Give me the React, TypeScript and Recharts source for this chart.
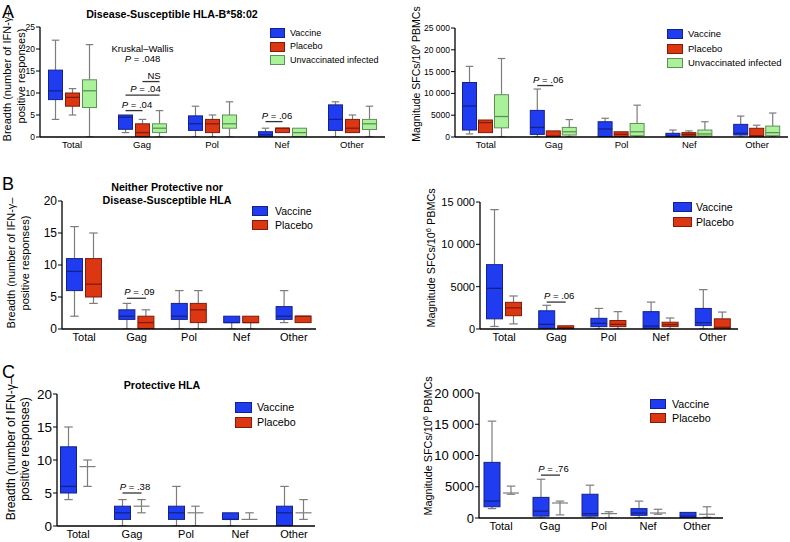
import React from "react";
import { BarChart, Bar, XAxis, YAxis, Legend } from "recharts";

// each box: [min, q1, median, q3, max]
type Box = number[];

const categories = ["Total", "Gag", "Pol", "Nef", "Other"];

const seriesNames: Record<string, string> = {
  vaccine: "Vaccine",
  placebo: "Placebo",
  unvacc: "Unvaccinated infected",
};

// A: disease-susceptible HLA-B*58:02
const susBreadthVaccine: Box[] = [[4, 8.5, 10.5, 15.2, 22], [1, 1.75, 4.5, 5, 5], [0, 1.5, 3, 4.8, 7], [0, 0, 0.5, 1.2, 2], [0, 1.5, 4, 7.3, 8]];
const susBreadthPlacebo: Box[] = [[5, 7, 9, 10, 11], [0, 0, 1, 3, 4], [0, 1, 3, 4, 5], [1, 1, 2, 2, 2], [1, 1, 2, 4, 5]];
const susBreadthUnvacc: Box[] = [[0, 6.7, 10.5, 13, 21], [0, 1, 2, 3, 6], [0, 2, 3, 5, 8], [0, 0, 1, 2, 2], [0, 1.7, 3, 4, 7]];

const susMagVaccine: Box[] = [[700, 1600, 7100, 12500, 16200], [0, 600, 2200, 6100, 11000], [0, 100, 1850, 3500, 4300], [0, 0, 200, 850, 1600], [0, 450, 850, 2900, 4800]];
const susMagPlacebo: Box[] = [[1000, 1000, 3300, 3900, 3900], [0, 0, 200, 1400, 1400], [0, 100, 600, 1200, 1200], [0, 200, 600, 1000, 1400], [0, 0, 300, 2000, 2700]];
const susMagUnvacc: Box[] = [[0, 2100, 4700, 9700, 18000], [0, 450, 1200, 2200, 4000], [0, 300, 1200, 3100, 7300], [0, 200, 700, 1600, 3500], [0, 300, 1000, 2500, 5500]];

// B: neither protective nor disease-susceptible
const neuBreadthVaccine: Box[] = [[2, 6, 9, 11, 16], [0, 1.5, 2, 3, 4], [0, 1.5, 2, 4, 6], [0, 1, 1, 2, 2], [1, 1.5, 2, 3.5, 6]];
const neuBreadthPlacebo: Box[] = [[4, 5, 7, 11, 15], [0, 0, 1, 2, 3], [0, 1, 3, 4, 6], [0, 1, 1, 2, 2], [1, 1, 2, 2, 2]];

const neuMagVaccine: Box[] = [[300, 1200, 4800, 7600, 14100], [0, 80, 550, 2150, 2800], [0, 280, 670, 1260, 2430], [0, 80, 350, 2050, 3180], [0, 400, 750, 2430, 4650]];
const neuMagPlacebo: Box[] = [[600, 1570, 2500, 3150, 3900], [0, 0, 150, 380, 380], [0, 280, 550, 1000, 2050], [0, 280, 520, 800, 1300], [0, 0, 200, 1200, 2000]];

// C: protective HLA
const proBreadthVaccine: Box[] = [[4, 5, 6, 12, 15], [0, 1, 2, 3, 4], [0, 1, 2, 3, 6], [0, 1, 1, 2, 2], [0, 0, 2, 3, 6]];
const proBreadthPlacebo: Box[] = [[6, 9, 9, 9, 10], [2, 3, 3, 3, 4], [0, 2, 2, 2, 3], [1, 1, 1, 1, 2], [1, 2, 2, 2, 4]];

const proMagVaccine: Box[] = [[1500, 1800, 2700, 8900, 15500], [0, 300, 1100, 3300, 6200], [0, 300, 700, 3800, 5250], [0, 430, 800, 1500, 2700], [0, 0, 300, 900, 900]];
const proMagPlacebo: Box[] = [[3800, 4000, 4000, 4000, 5100], [500, 2400, 2400, 2400, 2700], [0, 700, 700, 700, 1000], [600, 800, 800, 800, 1400], [100, 600, 600, 600, 1800]];

const ticksBreadth25 = [0, 5, 10, 15, 20, 25];
const ticksBreadth20 = [0, 5, 10, 15, 20];
const ticksMag25k = [0, 5000, 10000, 15000, 20000, 25000];
const ticksMag15k = [0, 5000, 10000, 15000];
const ticksMag20k = [0, 5000, 10000, 15000, 20000];

type Ann = { cat: string; y: number; text: string; from?: number; to?: number };

const susBreadthNotes: Ann[] = [
  { cat: "Gag", y: 19.25, text: "Kruskal–Wallis" },
  { cat: "Gag", y: 17, text: "P = .048" },
  { cat: "Gag", y: 6, text: "P = .04", from: 0, to: 1 },
  { cat: "Gag", y: 9.5, text: "P = .04", from: 0, to: 2 },
  { cat: "Gag", y: 12.6, text: "NS", from: 1, to: 2 },
  { cat: "Nef", y: 3.5, text: "P = .06", from: 0, to: 1 },
];
const susMagNotes: Ann[] = [{ cat: "Gag", y: 11800, text: "P = .06", from: 0, to: 1 }];
const neuBreadthNotes: Ann[] = [{ cat: "Gag", y: 4.8, text: "P = .09", from: 0, to: 1 }];
const neuMagNotes: Ann[] = [{ cat: "Gag", y: 3180, text: "P = .06", from: 0, to: 1 }];
const proBreadthNotes: Ann[] = [{ cat: "Gag", y: 5, text: "P = .38", from: 0, to: 1 }];
const proMagNotes: Ann[] = [{ cat: "Gag", y: 6860, text: "P = .76", from: 0, to: 1 }];

const COLORS: Record<string, { fill: string; edge: string }> = {
  vaccine: { fill: "#1f3cf0", edge: "#142288" },
  placebo: { fill: "#dc3613", edge: "#7e1d0a" },
  unvacc: { fill: "#a9f29a", edge: "#5f8f57" },
};
const WHISKER = "#7d7d7d";
const FONT = '"Liberation Sans", Arial, Helvetica, sans-serif';

const fmt = (v: number) => (v >= 10000 ? `${v / 1000} 000` : `${v}`);

const PText = ({ text }: { text: string }) =>
  text.startsWith("P ") ? (
    <>
      <tspan fontStyle="italic">P</tspan>
      <tspan>{text.slice(1)}</tspan>
    </>
  ) : (
    <tspan>{text}</tspan>
  );

function BoxShape(props: any) {
  const { x, y, width, height, payload, skey, gap, nSeries, anns, annFont, first } = props;
  const b: Box = payload[skey];
  const [mn, q1, md, q3, mx] = b;
  const top = Math.min(y, y + height);
  const h = Math.abs(height);
  const py = (v: number) => top + (h * (mx - v)) / (mx - mn);
  const c = COLORS[skey];
  const cx = x + width / 2;
  const cap = width * 0.25;
  const noBox = q3 === q1;
  const pitch = width + gap;
  const notes: Ann[] = first ? anns.filter((a: Ann) => a.cat === payload.cat) : [];
  return (
    <g>
      {mx > q3 && (
        <g stroke={WHISKER} strokeWidth={1.2}>
          <line x1={cx} x2={cx} y1={py(q3)} y2={py(mx)} />
          <line x1={cx - cap} x2={cx + cap} y1={py(mx)} y2={py(mx)} />
        </g>
      )}
      {q1 > mn && (
        <g stroke={WHISKER} strokeWidth={1.2}>
          <line x1={cx} x2={cx} y1={py(q1)} y2={py(mn)} />
          <line x1={cx - cap} x2={cx + cap} y1={py(mn)} y2={py(mn)} />
        </g>
      )}
      {!noBox && (
        <rect x={x + 0.5} y={py(q3)} width={width - 1} height={py(q1) - py(q3)} fill={c.fill} stroke={c.edge} strokeWidth={1} />
      )}
      <line
        x1={x + 0.5}
        x2={x + width - 0.5}
        y1={py(md)}
        y2={py(md)}
        stroke={noBox ? WHISKER : c.edge}
        strokeWidth={noBox ? 1.2 : 1.3}
      />
      {notes.map((a, i) => {
        const ya = py(a.y);
        if (a.from === undefined || a.to === undefined) {
          const gx = cx + ((nSeries - 1) / 2) * pitch;
          return (
            <text key={i} x={gx} y={ya} textAnchor="middle" fontSize={annFont} fontFamily={FONT} fill="#000">
              <PText text={a.text} />
            </text>
          );
        }
        const x1 = cx + a.from * pitch;
        const x2 = cx + a.to * pitch;
        return (
          <g key={i}>
            <line x1={x1} x2={x2} y1={ya} y2={ya} stroke="#333" strokeWidth={1.3} />
            <text x={(x1 + x2) / 2 + 3} y={ya - 3} textAnchor="middle" fontSize={annFont} fontFamily={FONT} fill="#000">
              <PText text={a.text} />
            </text>
          </g>
        );
      })}
    </g>
  );
}

type PanelProps = {
  box: { left: number; top: number; width: number; height: number };
  plot: { left: number; top: number; right: number; bottom: number };
  band: [number, number];
  series: { key: string; values: Box[] }[];
  domain: [number, number];
  ticks: number[];
  barSize: number;
  barGap: number;
  yFont: number;
  catFont: number;
  legendFont: number;
  annFont: number;
  legend: { x: number; y: number; pitch: number; sw: number; sh: number; gap: number };
  anns: Ann[];
};

function Panel(p: PanelProps) {
  const data = categories.map((cat, i) => {
    const row: any = { cat };
    p.series.forEach((s) => (row[s.key] = s.values[i]));
    return row;
  });
  const margin = {
    top: p.plot.top - p.box.top,
    right: p.box.left + p.box.width - p.plot.right,
    bottom: 0,
    left: 0,
  };
  const lg = p.legend;
  return (
    <div style={{ position: "absolute", left: p.box.left, top: p.box.top }}>
      <BarChart width={p.box.width} height={p.box.height} data={data} margin={margin} barSize={p.barSize} barGap={p.barGap}>
        <XAxis
          dataKey="cat"
          height={p.box.top + p.box.height - p.plot.bottom}
          padding={{ left: p.band[0] - p.plot.left, right: p.plot.right - p.band[1] }}
          tickLine={false}
          tickSize={0}
          tickMargin={4}
          interval={0}
          axisLine={{ stroke: "#000", strokeWidth: 1.3 }}
          tick={{ fill: "#000", fontSize: p.catFont, fontFamily: FONT }}
        />
        <YAxis
          type="number"
          width={p.plot.left - p.box.left}
          domain={p.domain}
          ticks={p.ticks}
          interval={0}
          allowDataOverflow
          tickSize={4}
          tickMargin={1}
          tickFormatter={fmt}
          axisLine={{ stroke: "#000", strokeWidth: 1.3 }}
          tickLine={{ stroke: "#000" }}
          tick={{ fill: "#000", fontSize: p.yFont, fontFamily: FONT }}
        />
        {p.series.map((s, si) => (
          <Bar
            key={s.key}
            name={seriesNames[s.key]}
            dataKey={(d: any) => [d[s.key][0], d[s.key][4]]}
            isAnimationActive={false}
            shape={(sp: any) => (
              <BoxShape
                {...sp}
                skey={s.key}
                gap={p.barGap}
                nSeries={p.series.length}
                anns={p.anns}
                annFont={p.annFont}
                first={si === 0}
              />
            )}
          />
        ))}
        <Legend
          layout="vertical"
          align="center"
          verticalAlign="middle"
          wrapperStyle={{ left: lg.x - p.box.left, top: lg.y - lg.pitch / 2 - p.box.top, width: "auto" }}
          content={() => (
            <div style={{ fontFamily: FONT }}>
              {p.series.map((s) => (
                <div key={s.key} style={{ display: "flex", alignItems: "center", height: lg.pitch, whiteSpace: "nowrap" }}>
                  <span
                    style={{
                      display: "inline-block",
                      width: lg.sw,
                      height: lg.sh,
                      background: COLORS[s.key].fill,
                      border: `1px solid ${COLORS[s.key].edge}`,
                      boxSizing: "border-box",
                      marginRight: lg.gap,
                    }}
                  />
                  <span style={{ fontSize: p.legendFont, color: "#000", lineHeight: 1 }}>{seriesNames[s.key]}</span>
                </div>
              ))}
            </div>
          )}
        />
      </BarChart>
    </div>
  );
}

const YLabel = ({ x, y, lines, size }: { x: number[]; y: number; lines: React.ReactNode[]; size: number }) => (
  <>
    {lines.map((l, i) => (
      <text key={i} transform={`translate(${x[i]},${y}) rotate(-90)`} textAnchor="middle" fontSize={size} fontFamily={FONT} fill="#000">
        {l}
      </text>
    ))}
  </>
);

const magLabel = (
  <>
    <tspan>Magnitude SFCs/10</tspan>
    <tspan dy={-4} fontSize="0.7em">6</tspan>
    <tspan dy={4}> PBMCs</tspan>
  </>
);
const breadthLines = ["Breadth (number of IFN-γ–", "positive responses)"];

export default function App() {
  return (
    <div style={{ position: "absolute", left: 0, top: 0, width: 790, height: 542, background: "#fff", fontFamily: FONT }}>
      <Panel
        box={{ left: 0, top: 0, width: 395, height: 160 }}
        plot={{ left: 40, top: 27, right: 385, bottom: 137 }}
        band={[37, 387]}
        series={[
          { key: "vaccine", values: susBreadthVaccine },
          { key: "placebo", values: susBreadthPlacebo },
          { key: "unvacc", values: susBreadthUnvacc },
        ]}
        domain={[0, 25]}
        ticks={ticksBreadth25}
        barSize={15}
        barGap={2}
        yFont={8.5}
        catFont={9.5}
        legendFont={9}
        annFont={9.5}
        legend={{ x: 270, y: 33, pitch: 13.5, sw: 15, sh: 10, gap: 5 }}
        anns={susBreadthNotes}
      />
      <Panel
        box={{ left: 400, top: 0, width: 390, height: 160 }}
        plot={{ left: 455, top: 28, right: 788, bottom: 137 }}
        band={[452, 791]}
        series={[
          { key: "vaccine", values: susMagVaccine },
          { key: "placebo", values: susMagPlacebo },
          { key: "unvacc", values: susMagUnvacc },
        ]}
        domain={[0, 25000]}
        ticks={ticksMag25k}
        barSize={15}
        barGap={1}
        yFont={8.5}
        catFont={9.5}
        legendFont={9.5}
        annFont={9.5}
        legend={{ x: 667, y: 34, pitch: 14.5, sw: 16, sh: 10, gap: 5 }}
        anns={susMagNotes}
      />
      <Panel
        box={{ left: 0, top: 170, width: 330, height: 180 }}
        plot={{ left: 62, top: 201, right: 316, bottom: 329 }}
        band={[58, 320]}
        series={[
          { key: "vaccine", values: neuBreadthVaccine },
          { key: "placebo", values: neuBreadthPlacebo },
        ]}
        domain={[0, 20]}
        ticks={ticksBreadth20}
        barSize={17}
        barGap={2}
        yFont={12}
        catFont={11}
        legendFont={10.5}
        annFont={9.5}
        legend={{ x: 252, y: 211, pitch: 14, sw: 16, sh: 10, gap: 7 }}
        anns={neuBreadthNotes}
      />
      <Panel
        box={{ left: 400, top: 170, width: 350, height: 180 }}
        plot={{ left: 480, top: 202, right: 738, bottom: 329 }}
        band={[478, 739]}
        series={[
          { key: "vaccine", values: neuMagVaccine },
          { key: "placebo", values: neuMagPlacebo },
        ]}
        domain={[0, 15000]}
        ticks={ticksMag15k}
        barSize={17}
        barGap={2}
        yFont={11}
        catFont={11}
        legendFont={10.5}
        annFont={9.5}
        legend={{ x: 673, y: 207, pitch: 15, sw: 19, sh: 10, gap: 4 }}
        anns={neuMagNotes}
      />
      <Panel
        box={{ left: 0, top: 355, width: 330, height: 187 }}
        plot={{ left: 57, top: 394, right: 315, bottom: 526 }}
        band={[51, 321]}
        series={[
          { key: "vaccine", values: proBreadthVaccine },
          { key: "placebo", values: proBreadthPlacebo },
        ]}
        domain={[0, 20]}
        ticks={ticksBreadth20}
        barSize={17}
        barGap={2}
        yFont={13.5}
        catFont={11}
        legendFont={10.7}
        annFont={9.5}
        legend={{ x: 235, y: 407, pitch: 15, sw: 17, sh: 11, gap: 5 }}
        anns={proBreadthNotes}
      />
      <Panel
        box={{ left: 400, top: 355, width: 340, height: 187 }}
        plot={{ left: 479, top: 393, right: 723, bottom: 518 }}
        band={[476.5, 721.5]}
        series={[
          { key: "vaccine", values: proMagVaccine },
          { key: "placebo", values: proMagPlacebo },
        ]}
        domain={[0, 20000]}
        ticks={ticksMag20k}
        barSize={17}
        barGap={2}
        yFont={13}
        catFont={11}
        legendFont={10.7}
        annFont={9.5}
        legend={{ x: 650, y: 404, pitch: 14, sw: 16, sh: 10, gap: 6 }}
        anns={proMagNotes}
      />
      <svg width={790} height={542} style={{ position: "absolute", left: 0, top: 0, pointerEvents: "none" }}>
        <g fontFamily={FONT} fill="#000">
          <text x={2} y={18} fontSize={18}>A</text>
          <text x={2} y={190} fontSize={18}>B</text>
          <text x={2} y={378} fontSize={18}>C</text>
          <text x={172} y={18} fontSize={10.7} fontWeight="bold" textAnchor="middle">Disease-Susceptible HLA-B*58:02</text>
          <text x={167} y={191} fontSize={10.7} fontWeight="bold" textAnchor="middle">Neither Protective nor</text>
          <text x={167} y={204} fontSize={10.7} fontWeight="bold" textAnchor="middle">Disease-Susceptible HLA</text>
          <text x={162} y={389} fontSize={10.7} fontWeight="bold" textAnchor="middle">Protective HLA</text>
        </g>
        <YLabel x={[11, 25]} y={76} lines={breadthLines} size={11} />
        <YLabel x={[420]} y={74} lines={[magLabel]} size={10.5} />
        <YLabel x={[15, 29]} y={263} lines={breadthLines} size={11} />
        <YLabel x={[435]} y={258} lines={[magLabel]} size={10.8} />
        <YLabel x={[15, 29]} y={449} lines={breadthLines} size={12} />
        <YLabel x={[432]} y={446} lines={[magLabel]} size={10.8} />
      </svg>
    </div>
  );
}
